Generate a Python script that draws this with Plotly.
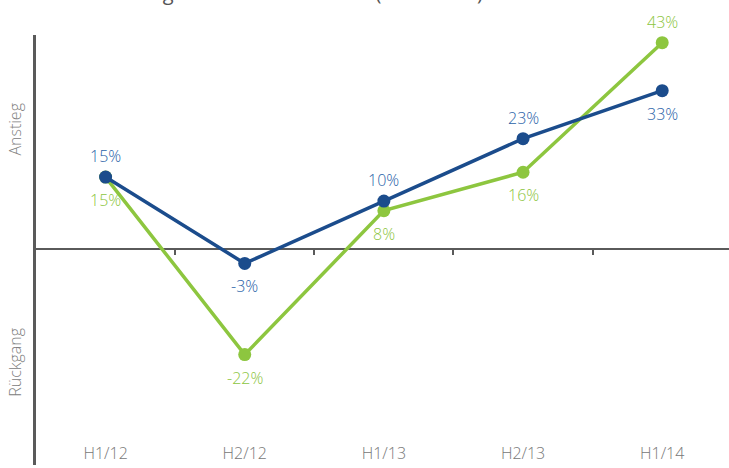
import plotly.graph_objects as go

halbjahre = ["H1/12", "H2/12", "H1/13", "H2/13", "H1/14"]
blau_werte = [15, -3, 10, 23, 33]
gruen_werte = [15, -22, 8, 16, 43]
# +1 = label above the point, -1 = label below
blau_seite = [1, -1, 1, 1, -1]
gruen_seite = [-1, -1, -1, -1, 1]

BLAU = "#1b4c8c"
BLAU_TEXT = "#2a62a8"
GRUEN = "#8dc63f"
GRUEN_TEXT = "#8cc540"
GRAU = "#5a5a5a"

fig = go.Figure()

fig.add_trace(go.Scatter(
    x=halbjahre, y=gruen_werte, mode="lines+markers",
    line=dict(color=GRUEN, width=3.5),
    marker=dict(color=GRUEN, size=13),
    showlegend=False,
))
fig.add_trace(go.Scatter(
    x=halbjahre, y=blau_werte, mode="lines+markers",
    line=dict(color=BLAU, width=3.5),
    marker=dict(color=BLAU, size=13),
    showlegend=False,
))

# invisible trace to carry the tick marks on the zero line
fig.add_trace(go.Scatter(x=halbjahre, y=[None] * 5, xaxis="x2", showlegend=False))

labels = []
for werte, seiten, farbe in [(gruen_werte, gruen_seite, GRUEN_TEXT),
                             (blau_werte, blau_seite, BLAU_TEXT)]:
    for kat, v, s in zip(halbjahre, werte, seiten):
        labels.append(dict(
            x=kat, y=v, text=f"{v}%", showarrow=False,
            xanchor="center", yanchor="middle",
            yshift=21 if s > 0 else -23,
            font=dict(size=16, color=farbe, family="Open Sans", weight=300),
        ))

fig.update_layout(
    width=729, height=468,
    margin=dict(l=36, r=0, t=35, b=3, autoexpand=False),
    plot_bgcolor="white", paper_bgcolor="white",
    font=dict(family="Open Sans", color="#666"),
    xaxis=dict(
        type="category", range=[-0.5, 4.48],
        showgrid=False, zeroline=False, showline=False, ticks="",
        ticklabelposition="inside", automargin=False,
        tickfont=dict(size=16, color="#777", family="Open Sans", weight=300),
    ),
    xaxis2=dict(
        type="category", range=[-0.5, 4.48], overlaying="x",
        anchor="free", position=0.5023, automargin=False,
        showgrid=False, zeroline=False, showline=False,
        tickmode="array", tickvals=[0.5, 1.5, 2.5, 3.5],
        ticks="outside", ticklen=5, tickwidth=1.5, tickcolor=GRAU,
        showticklabels=False,
    ),
    yaxis=dict(
        range=[-45, 44.6], showgrid=False, showticklabels=False, ticks="",
        zeroline=True, zerolinecolor=GRAU, zerolinewidth=2, automargin=False,
        showline=True, linecolor=GRAU, linewidth=2.5,
    ),
    annotations=labels + [
        dict(text="Anstieg", xref="paper", yref="paper", x=-0.0303, y=0.78,
             xanchor="center", yanchor="middle",
             textangle=-90, showarrow=False,
             font=dict(size=16, color="#808080", family="Open Sans", weight=300)),
        dict(text="Rückgang", xref="paper", yref="paper", x=-0.0303, y=0.24,
             xanchor="center", yanchor="middle",
             textangle=-90, showarrow=False,
             font=dict(size=16, color="#808080", family="Open Sans", weight=300)),
        dict(text="Entwicklung Geschäftsaussichten (Saldo in %)", xref="paper",
             yref="paper", x=0.035, y=1.063, xanchor="left", yanchor="bottom",
             showarrow=False,
             font=dict(size=20, color="#555", family="Open Sans")),
    ],
)

# the page body has a default 8px margin; remove it so the figure fills the window
fig.write_html("out.html", config={"displayModeBar": False},
               post_script="document.body.style.margin='0';")
